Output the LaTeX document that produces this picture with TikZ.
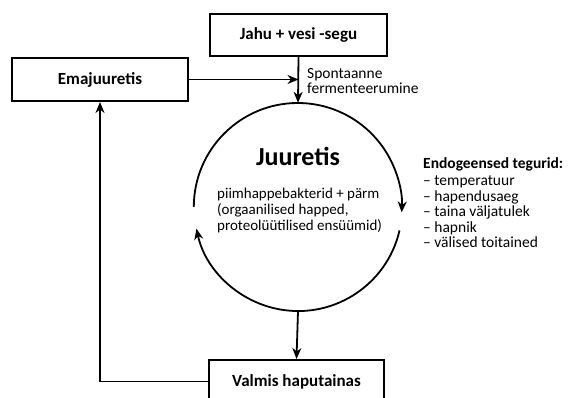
\documentclass[tikz,border=0pt]{standalone}
\usepackage{fontspec}
\setmainfont{Carlito}
\usetikzlibrary{arrows.meta, positioning}

\begin{document}
\begin{tikzpicture}[x=1pt, y=1pt,
    box/.style={draw, line width=2pt, rectangle, minimum width=176, minimum height=43, font=\fontsize{17}{20}\selectfont\bfseries},
    flow/.style={line width=1.8pt, -{Stealth[length=11pt, width=9pt, inset=3.5pt]}}]
    \useasboundingbox (0,0) rectangle (570,-398);

    % Boxes
    \node[box, minimum width=177, minimum height=42] (Jahu) at (298.5,-35) {Jahu + vesi -segu};
    \node[box] (Ema) at (100,-79.5) {Emajuuretis};
    \node[box, minimum width=175] (Valmis) at (296.5,-381.5) {Valmis haputainas};

    % Circle for Juuretis
    \node[circle, minimum size=208, inner sep=0pt] (Juur) at (298,-207) {};
    \draw[flow] (Juur.180) arc[start angle=180, end angle=-3, radius=104];
    \draw[flow] (Juur.-13) arc[start angle=-13, end angle=-168, radius=104];
    \node[font=\fontsize{26}{30}\selectfont\bfseries] (Title) at (298,-156) {Juuretis};
    \node[anchor=west, align=left, inner sep=0pt, font=\fontsize{15}{16}\selectfont] (Mikro) at (217,-211)
        {piimhappebakterid + pärm\\(orgaanilised happed,\\proteolüütilised ensüümid)};

    % Side texts
    \node[anchor=west, align=left, inner sep=0pt, font=\fontsize{15.5}{14.5}\selectfont] (Spont) at (307,-81)
        {Spontaanne\\fermenteerumine};
    \node[anchor=north west, align=left, inner sep=0pt, font=\fontsize{15.5}{15.5}\selectfont] (Endo) at (423,-157)
        {\textbf{Endogeensed tegurid:}\\[2pt]
         – temperatuur\\– hapendusaeg\\– taina väljatulek\\– hapnik\\– välised toitained};

    % Arrows
    \draw[flow] (Ema.east) -- (Jahu.south |- Ema.east);
    \draw[flow] (Jahu.south) -- (Juur.north);
    \draw[flow] (Juur.south) -- (Valmis.north);
    \draw[flow] (Valmis.west) -| (Ema.south);
\end{tikzpicture}
\end{document}
